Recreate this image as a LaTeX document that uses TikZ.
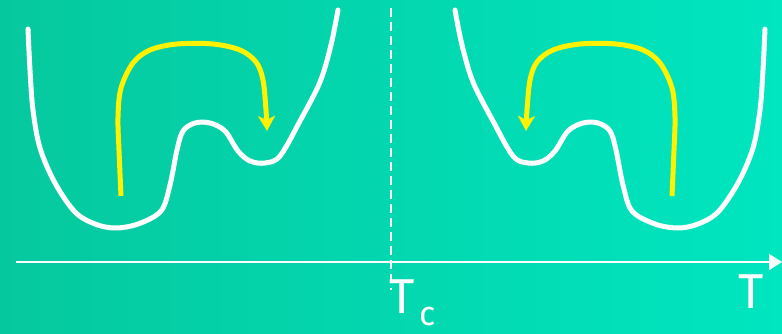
\documentclass[tikz,border=0pt]{standalone}
\usepackage{fontspec}
\setmainfont{Fira Sans}
\usetikzlibrary{arrows.meta}
\begin{document}
\begin{tikzpicture}[x=1pt,y=-1pt,
  well/.style={white, line width=5pt, line cap=round, line join=round},
  jump/.style={yellow, line width=5pt, -{Stealth[length=15pt,width=17pt,inset=4pt]}},
  axisline/.style={white, line width=1.8pt, -{Triangle[length=13pt,width=16pt]}},
  critline/.style={white, line width=1.4pt, dash pattern=on 9pt off 5pt},
  lbl/.style={white, inner sep=0pt, font=\fontsize{49}{49}\selectfont}]
\definecolor{bgL}{RGB}{6,200,158}
\definecolor{bgR}{RGB}{0,230,192}
\useasboundingbox (0,0) rectangle (782,334);
\shade[left color=bgL, right color=bgR] (0,0) rectangle (782,334);
% left potential
\draw[well] plot[smooth, tension=0.55] coordinates {(28,29) (30,70) (33,110) (40,148) (55,183) (75,212) (95,224) (115,228) (138,224) (161,211) (170,185) (177,150) (183,131) (195,123) (210,123) (225,131) (238,151) (250,161) (265,163) (280,156) (300,121) (320,82) (331,45) (338,10)};
\draw[jump] plot[smooth, tension=0.55] coordinates {(121,196) (119,150) (118,117) (121,88) (133,63) (150,50) (177,44) (213,44) (240,50) (256,62) (263,80) (266,110) (267,131)};
% right potential (mirror)
\begin{scope}[xshift=793pt, xscale=-1]
\draw[well] plot[smooth, tension=0.55] coordinates {(28,29) (30,70) (33,110) (40,148) (55,183) (75,212) (95,224) (115,228) (138,224) (161,211) (170,185) (177,150) (183,131) (195,123) (210,123) (225,131) (238,151) (250,161) (265,163) (280,156) (300,121) (320,82) (331,45) (338,10)};
\draw[jump] plot[smooth, tension=0.55] coordinates {(121,196) (119,150) (118,117) (121,88) (133,63) (150,50) (177,44) (213,44) (240,50) (256,62) (263,80) (266,110) (267,131)};
\end{scope}
% axis and critical line
\coordinate (ax0) at (16,262);
\coordinate (ax1) at (782,262);
\coordinate (tc0) at (391,8);
\coordinate (tc1) at (391,290);
\draw[critline] (tc0) -- (tc1);
\draw[axisline] (ax0) -- (ax1);
\node[lbl, anchor=base west] (tc) at (389,313) {T\hspace{5pt}\raisebox{-12pt}{\fontsize{34}{34}\selectfont c}};
\node[lbl, anchor=base] (tt) at (751,308) {T};
\end{tikzpicture}
\end{document}
